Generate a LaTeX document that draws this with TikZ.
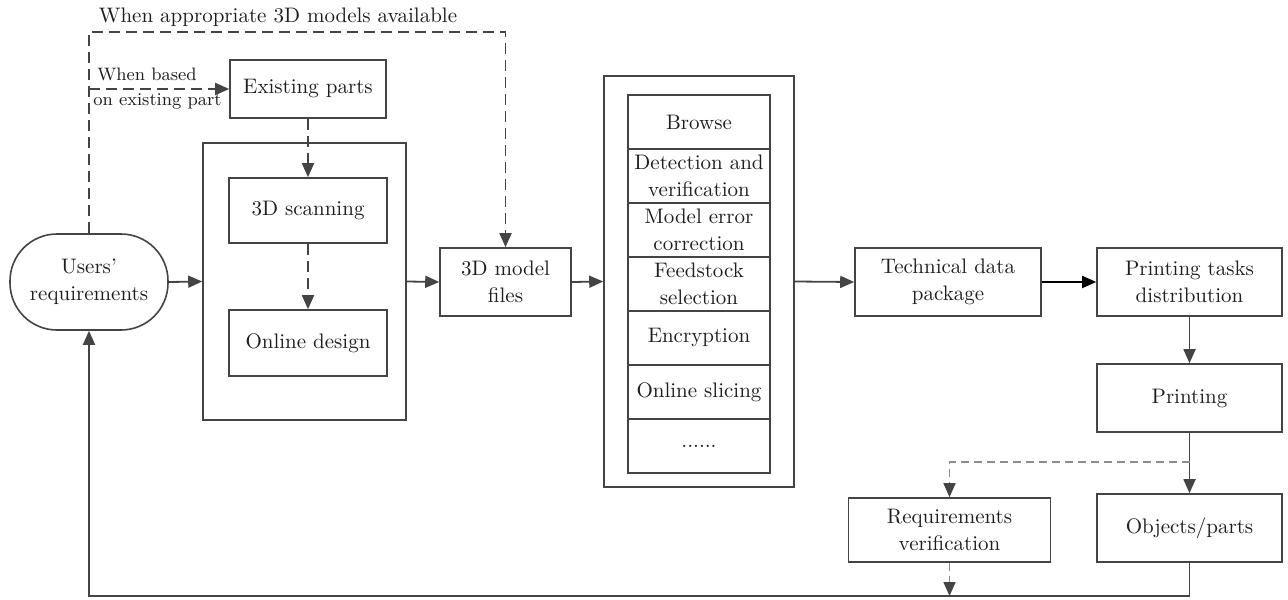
\documentclass[tikz,border=0pt]{standalone}
\usepackage{amsmath}
\usepackage{tikz}
\usetikzlibrary{arrows.meta}

\definecolor{linegray}{HTML}{444444}
\definecolor{textgray}{HTML}{1E1E1E}

\tikzset{
  >={Triangle[length=7pt,width=6pt]},
  box/.style={draw=linegray, line width=0.8pt, align=center, inner sep=1pt,
              text=textgray, font=\fontsize{10.5}{13.5}\selectfont},
  conn/.style={draw=linegray, line width=0.9pt},
  dashconn/.style={conn, dash pattern=on 5.5pt off 3pt},
  lightdash/.style={draw=gray!90, line width=0.8pt, dash pattern=on 4pt off 2.5pt,
                    -{Triangle[length=7pt,width=6pt,color=linegray]}}
}

\begin{document}
\begin{tikzpicture}[x=0.5pt, y=-0.5pt]
    \useasboundingbox (0,0) rectangle (1288,599);

    % labels
    \node[text=textgray, font=\fontsize{10.5}{13}\selectfont] (avail) at (278,17) {When appropriate 3D models available};
    \node[text=textgray, font=\fontsize{9}{11}\selectfont, anchor=west, inner sep=0pt] (based1) at (97,74) {When based};
    \node[text=textgray, font=\fontsize{9}{11}\selectfont, anchor=west, inner sep=0pt] (based2) at (93,101) {on existing part};

    % left part
    \node[box, rounded corners=23.5pt, minimum width=79pt, minimum height=48pt] (req) at (89,282) {Users'\\requirements};
    \node[box, minimum width=78pt, minimum height=29pt] (exist) at (308,89) {Existing parts};
    \node[box, minimum width=101.5pt, minimum height=138.5pt] (frameA) at (304.5,281.5) {};
    \node[box, minimum width=79pt, minimum height=32.5pt] (scan) at (308,210.5) {3D scanning};
    \node[box, minimum width=79pt, minimum height=33pt] (design) at (308,343) {Online design};
    \node[box, minimum width=65.5pt, minimum height=34pt] (files) at (505.5,282) {3D model\\files};

    % processing column
    \node[box, minimum width=95pt, minimum height=205.5pt] (frameB) at (699,281.5) {};
    \node[box, minimum width=71pt, minimum height=27pt] (browse) at (699,122) {Browse};
    \node[box, minimum width=71pt, minimum height=27pt] (detect) at (699,176) {Detection and\\verification};
    \node[box, minimum width=71pt, minimum height=27pt] (error) at (699,230) {Model error\\correction};
    \node[box, minimum width=71pt, minimum height=27pt] (feed) at (699,284) {Feedstock\\selection};
    \node[box, minimum width=71pt, minimum height=27pt] (encrypt) at (699,338) {Encryption};
    \node[box, minimum width=71pt, minimum height=27pt] (slice) at (699,392) {Online slicing};
    \node[box, minimum width=71pt, minimum height=27pt] (dots) at (699,446) {......};

    % right part
    \node[box, minimum width=93pt, minimum height=34pt] (tdp) at (948,282) {Technical data\\package};
    \node[box, minimum width=92.5pt, minimum height=34pt] (ptd) at (1189.5,282) {Printing tasks\\distribution};
    \node[box, minimum width=92.5pt, minimum height=34pt] (print) at (1189.5,398) {Printing};
    \node[box, minimum width=92.5pt, minimum height=34pt] (obj) at (1189.5,528) {Objects/parts};
    \node[box, minimum width=101pt, minimum height=32pt] (verif) at (949.5,530) {Requirements\\verification};

    \coordinate (top) at (89,32);
    \coordinate (split) at (1189.5,462);
    \coordinate (bot) at (0,596);

    % dashed branches
    \draw[dashconn,->] (req.north) -- (top) -| (files.north);
    \draw[dashconn,->] (req.north |- exist.west) -- (exist.west);
    \draw[dashconn,->] (exist.south) -- (scan.north);
    \draw[dashconn,->] (scan.south) -- (design.north);

    % main flow
    \draw[conn,->] (req.east) -- (frameA.west);
    \draw[conn,->] (frameA.east) -- (files.west);
    \draw[conn,->] (files.east) -- (frameB.west);
    \draw[conn,->] (frameB.east) -- (tdp.west);
    \draw[conn,->, draw=black, fill=black] (tdp.east) -- (ptd.west);
    \draw[conn,->] (ptd.south) -- (print.north);
    \draw[conn,->] (print.south) -- (obj.north);

    % verification and feedback
    \draw[lightdash] (split) -| (verif.north);
    \draw[lightdash] (verif.south) -- (verif.south |- bot);
    \draw[conn,->] (obj.south) -- (obj.south |- bot) -| (req.south);
\end{tikzpicture}
\end{document}
